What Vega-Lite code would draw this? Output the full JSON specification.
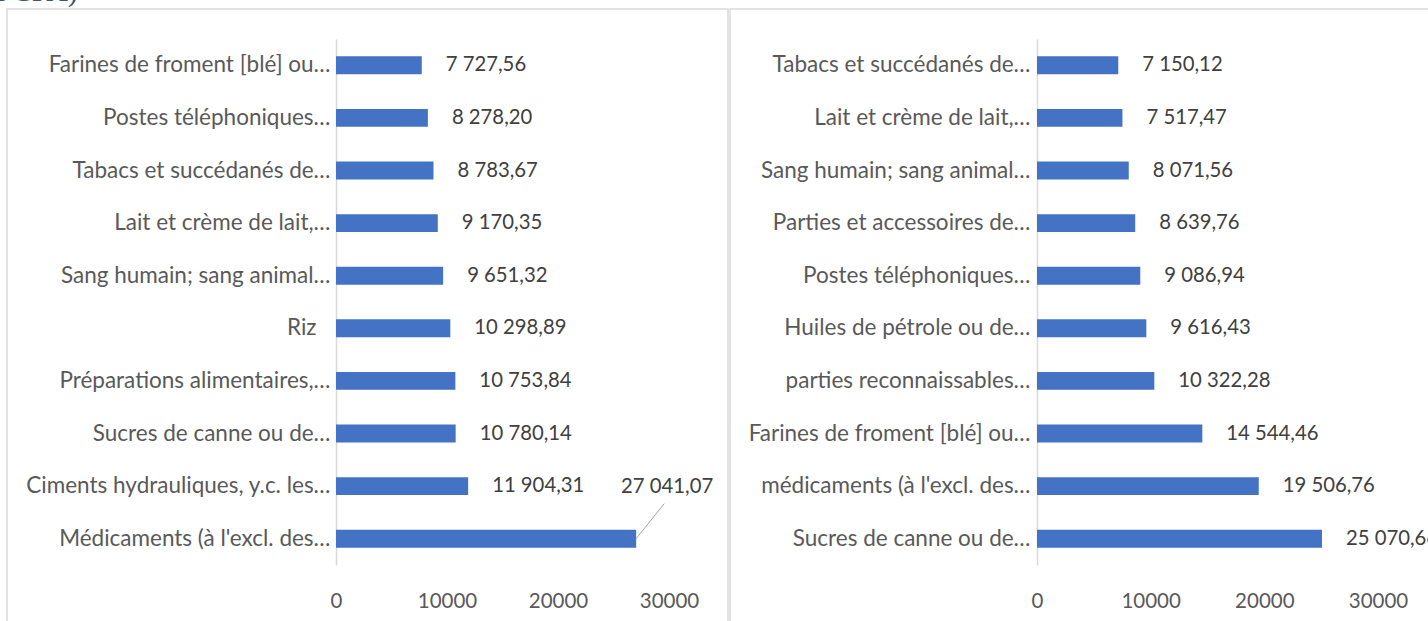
{
  "$schema": "https://vega.github.io/schema/vega-lite/v6.json",
  "padding": {"left": -5, "top": -23, "right": 0, "bottom": 0},
  "background": "white",
  "spacing": 0,
  "title": {
    "text": "FCFA)",
    "anchor": "start",
    "frame": "group",
    "font": "Liberation Serif",
    "fontSize": 30,
    "fontWeight": "normal",
    "color": "#44546A",
    "baseline": "alphabetic",
    "offset": -23,
    "dx": -12
  },
  "config": {
    "view": {"stroke": "#d9d9d9", "strokeWidth": 1.5},
    "locale": {"number": {"decimal": ",", "thousands": " ", "grouping": [3], "currency": ["", ""]}},
    "axis": {
      "ticks": false,
      "grid": false,
      "title": null,
      "labelColor": "#595959",
      "labelFont": "Lato",
      "labelFontSize": 22.5,
      "domainColor": "#d9d9d9",
      "domainWidth": 1.5
    },
    "text": {"font": "Lato", "fontSize": 20.3, "color": "#404040"}
  },
  "datasets": {
    "left": [
      {"cat": "Farines de froment [blé] ou…", "value": 7727.56},
      {"cat": "Postes téléphoniques…", "value": 8278.20},
      {"cat": "Tabacs et succédanés de…", "value": 8783.67},
      {"cat": "Lait et crème de lait,…", "value": 9170.35},
      {"cat": "Sang humain; sang animal…", "value": 9651.32},
      {"cat": "Riz", "value": 10298.89},
      {"cat": "Préparations alimentaires,…", "value": 10753.84},
      {"cat": "Sucres de canne ou de…", "value": 10780.14},
      {"cat": "Ciments hydrauliques, y.c. les…", "value": 11904.31},
      {"cat": "Médicaments (à l'excl. des…", "value": 27041.07}
    ],
    "right": [
      {"cat": "Tabacs et succédanés de…", "value": 7150.12},
      {"cat": "Lait et crème de lait,…", "value": 7517.47},
      {"cat": "Sang humain; sang animal…", "value": 8071.56},
      {"cat": "Parties et accessoires de…", "value": 8639.76},
      {"cat": "Postes téléphoniques…", "value": 9086.94},
      {"cat": "Huiles de pétrole ou de…", "value": 9616.43},
      {"cat": "parties reconnaissables…", "value": 10322.28},
      {"cat": "Farines de froment [blé] ou…", "value": 14544.46},
      {"cat": "médicaments (à l'excl. des…", "value": 19506.76},
      {"cat": "Sucres de canne ou de…", "value": 25070.66}
    ]
  },
  "hconcat": [
    {
      "width": 721,
      "height": 620,
      "data": {"name": "left"},
      "encoding": {
        "y": {
          "field": "cat", "type": "nominal", "sort": null,
          "scale": {"range": [30, 556], "paddingInner": 0.66, "paddingOuter": 0.33},
          "axis": {
            "offset": -329, "labelLimit": 400,
            "labelPadding": {"condition": {"test": "datum.value === 'Riz'", "value": 20}, "value": 6}
          }
        },
        "x": {
          "field": "value", "type": "quantitative",
          "scale": {"domain": [0, 30000], "range": [329, 662], "nice": false},
          "axis": {"values": [0, 10000, 20000, 30000], "format": "d", "offset": -40, "domain": false, "labelPadding": 2, "labelBaseline": "top", "labelFlush": false, "labelFontSize": 20.5}
        }
      },
      "layer": [
        {"mark": {"type": "bar", "color": "#4472C4"}},
        {
          "transform": [{"filter": "datum.value < 20000"}],
          "mark": {"type": "text", "align": "left", "dx": 24},
          "encoding": {"text": {"field": "value", "type": "quantitative", "format": ",.2f"}}
        },
        {
          "transform": [{"filter": "datum.value >= 20000"}],
          "mark": {"type": "text", "align": "center", "dx": 31, "dy": -52},
          "encoding": {"text": {"field": "value", "type": "quantitative", "format": ",.2f"}}
        },
        {
          "transform": [{"filter": "datum.value >= 20000"}],
          "mark": {"type": "rule", "color": "#a6a6a6", "strokeWidth": 1, "x2Offset": 28, "y2Offset": -35},
          "encoding": {"x2": {"field": "value"}, "y2": {"field": "cat"}}
        }
      ]
    },
    {
      "width": 710,
      "height": 620,
      "data": {"name": "right"},
      "encoding": {
        "y": {
          "field": "cat", "type": "nominal", "sort": null,
          "scale": {"range": [30, 556], "paddingInner": 0.66, "paddingOuter": 0.33},
          "axis": {"offset": -307, "labelPadding": 7, "labelLimit": 400}
        },
        "x": {
          "field": "value", "type": "quantitative",
          "scale": {"domain": [0, 30000], "range": [307, 648], "nice": false},
          "axis": {"values": [0, 10000, 20000, 30000], "format": "d", "offset": -40, "domain": false, "labelPadding": 2, "labelBaseline": "top", "labelFlush": false, "labelFontSize": 20.5}
        }
      },
      "layer": [
        {"mark": {"type": "bar", "color": "#4472C4"}},
        {
          "mark": {"type": "text", "align": "left", "dx": 24},
          "encoding": {"text": {"field": "value", "type": "quantitative", "format": ",.2f"}}
        }
      ]
    }
  ]
}
